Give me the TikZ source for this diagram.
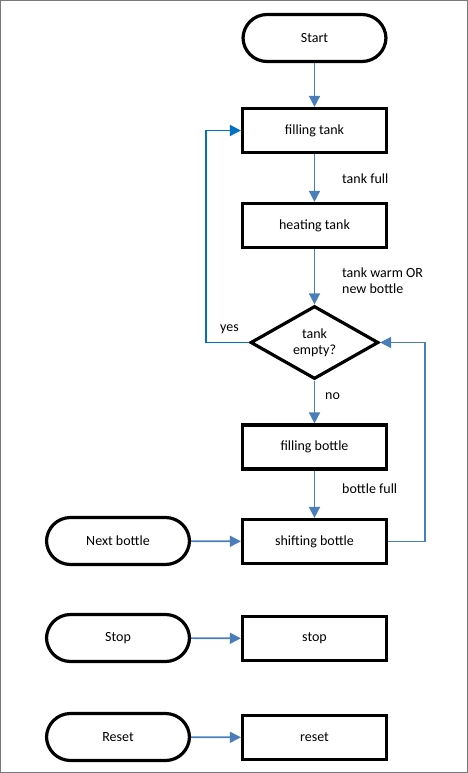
\documentclass[tikz,border=0pt]{standalone}
\usepackage{fontspec}
\setmainfont{Carlito}
\usetikzlibrary{shapes.geometric,arrows.meta}
\begin{document}
\begin{tikzpicture}[x=1pt,y=-1pt,
  font=\fontsize{14}{16}\selectfont,
  boxst/.style={draw=black,line width=3.2pt,minimum width=144pt,minimum height=44pt,inner sep=0pt},
  pill/.style={draw=black,line width=3.2pt,rounded corners=24pt,minimum width=143pt,minimum height=47pt,inner sep=0pt},
  dia/.style={draw=black,line width=3.2pt,diamond,aspect=1.75,minimum width=128pt,minimum height=73pt,inner sep=0pt,align=center},
  conn/.style={draw={rgb,255:red,74;green,126;blue,187},line width=1.6pt,-{Triangle[length=11pt,width=11pt]}},
  conn2/.style={draw={rgb,255:red,0;green,112;blue,192},line width=1.6pt,-{Triangle[length=11pt,width=11pt]}},
  lab/.style={anchor=west,inner sep=0pt,align=left}]
\useasboundingbox (0,0) rectangle (468,773);
\draw[draw={rgb,255:red,120;green,120;blue,120},line width=0.8pt] (0.5,0.5) rectangle (467.5,772.5);
\node[pill] (start) at (314.5,38) {Start};
\node[boxst] (ft) at (314.5,130.5) {filling tank};
\node[boxst] (ht) at (314.5,225.5) {heating tank};
\node[dia] (te) at (314.5,342.5) {tank\\empty?};
\node[boxst] (fb) at (314.5,447) {filling bottle};
\node[boxst] (sb) at (314.5,541.5) {shifting bottle};
\node[pill] (nb) at (118,541) {Next bottle};
\node[pill] (sp) at (118,638) {Stop};
\node[boxst] (st) at (314.5,638.5) {stop};
\node[pill] (rs) at (118,737) {Reset};
\node[boxst] (re) at (314.5,737.5) {reset};
\coordinate (yl) at (206,342.5);
\coordinate (rl) at (425,342.5);
\path[conn] (start) -- (ft);
\path[conn] (ft) -- (ht);
\path[conn] (ht) -- (te);
\path[conn] (te) -- (fb);
\path[conn] (fb) -- (sb);
\path[conn2] (te.west) -- (yl) |- (ft.west);
\path[conn] (sb.east) -| (rl) -- (te.east);
\path[conn] (nb) -- (sb);
\path[conn] (sp) -- (st);
\path[conn] (rs) -- (re);
\node[lab] (l1) at (342,179) {tank full};
\node[lab] (l2) at (342,281) {tank warm OR\\new bottle};
\node[lab] (l3) at (220,329) {yes};
\node[lab] (l4) at (325,396) {no};
\node[lab] (l5) at (342,489) {bottle full};
\end{tikzpicture}
\end{document}
